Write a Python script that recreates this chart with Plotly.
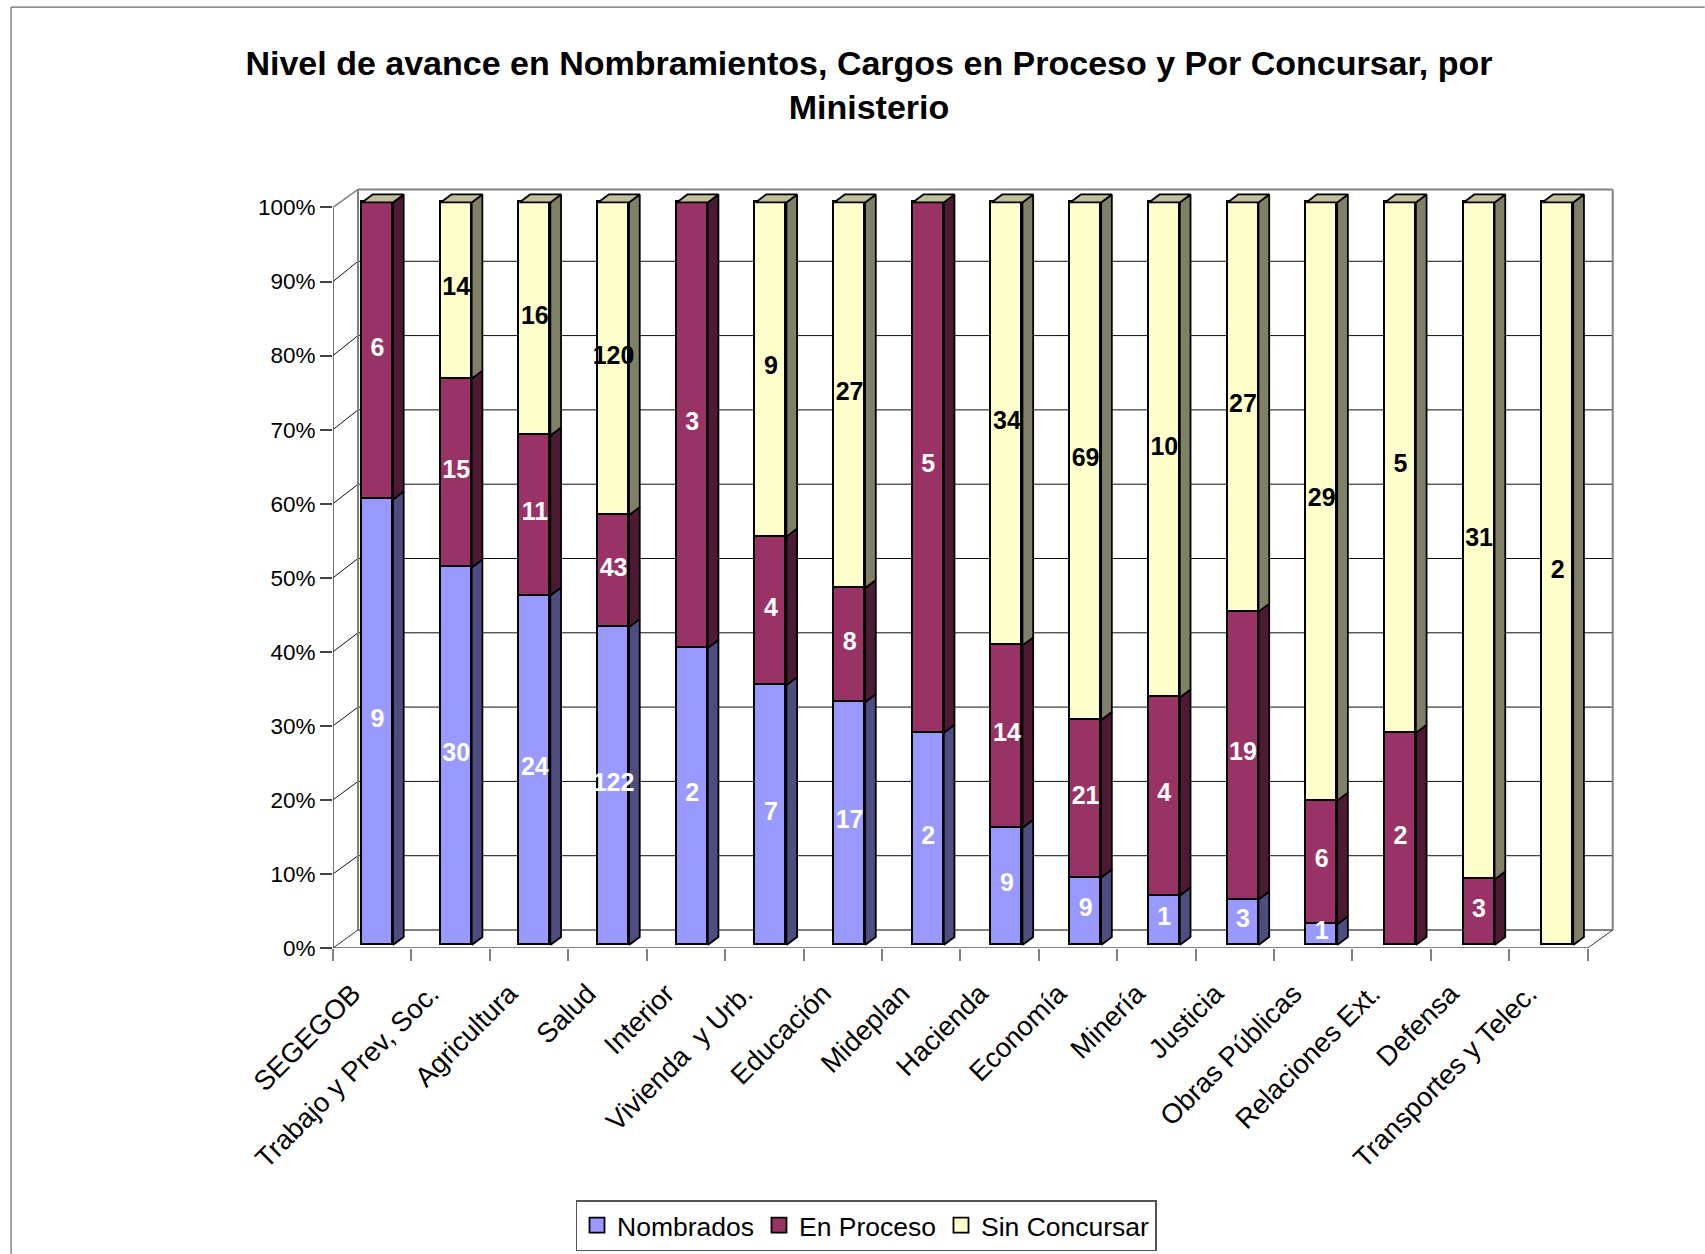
import plotly.graph_objects as go

# ---- data ----
categories = ["SEGEGOB", "Trabajo y Prev, Soc.", "Agricultura", "Salud", "Interior",
              "Vivienda  y Urb.", "Educación", "Mideplan", "Hacienda", "Economía",
              "Minería", "Justicia", "Obras Públicas", "Relaciones Ext.", "Defensa",
              "Transportes y Telec."]
nombrados = [9, 30, 24, 122, 2, 7, 17, 2, 9, 9, 1, 3, 1, 0, 0, 0]
en_proceso = [6, 15, 11, 43, 3, 4, 8, 5, 14, 21, 4, 19, 6, 2, 3, 0]
sin_concursar = [0, 14, 16, 120, 0, 9, 27, 0, 34, 69, 10, 27, 29, 5, 31, 2]
percent_ticks = list(range(0, 101, 10))

# ---- geometry (pixels) ----
W, H = 1705, 1254
AX_L, AX_R, AX_T, AX_B = 333.0, 1588.0, 207.0, 948.0
PX_X = (AX_R - AX_L) / 16
PX_Y = (AX_B - AX_T) / 100
WALL_DX, WALL_DY = 25 / PX_X, 18 / PX_Y
BACK_SCALE = 74.35 / 74.1
BAR_DX, BAR_DY = 10.7 / PX_X, 8 / PX_Y
BAR_W = 31 / PX_X
BAR_SHIFT = 44.5 / PX_X
BAR_PERIOD = 78.7 / PX_X
XMAX = 16 + WALL_DX + 0.08
YMAX = 100 + WALL_DY + 0.2
PLOT_TOP = AX_B - YMAX * PX_Y
BAR_BOTTOM, BAR_TOP = 945.0, 202.0
PX_Y2 = (BAR_BOTTOM - BAR_TOP) / 100
Y2_MIN = -(AX_B - BAR_BOTTOM) / PX_Y2
Y2_MAX = (BAR_BOTTOM - PLOT_TOP) / PX_Y2
LABEL_NUDGE = 1.5 / PX_Y2
LABEL_TICK_SHIFT = 0.25

FRONT = ["#9999FF", "#993366", "#FFFFCC"]
SIDE = ["#4D4D80", "#4D1A33", "#808066"]
TOP = "#BFBF99"
TEXT_COL = ["white", "white", "black"]
FONT = "Liberation Sans, Arial, sans-serif"
names = ["Nombrados", "En Proceso", "Sin Concursar"]
series = [nombrados, en_proceso, sin_concursar]
xs = [BAR_SHIFT + i * BAR_PERIOD for i in range(len(categories))]

fig = go.Figure()

# front faces
for k, vals in enumerate(series):
    fig.add_trace(go.Bar(
        x=xs, y=vals, width=BAR_W, yaxis="y2", showlegend=False,
        marker=dict(color=FRONT[k], line=dict(color="black", width=1.8)),
        hoverinfo="skip", cliponaxis=False,
    ))

# side faces and data labels, derived from the same values
label_sets = []
for k, vals in enumerate(series):
    px, py, lx, ly, lt = [], [], [], [], []
    for i, x in enumerate(xs):
        tot = sum(s[i] for s in series)
        lo = sum(series[j][i] for j in range(k)) / tot * 100
        hi = lo + vals[i] / tot * 100
        if vals[i] == 0:
            continue
        r = x + BAR_W / 2
        px += [r, r + BAR_DX, r + BAR_DX, r, r, None]
        py += [lo, lo + BAR_DY, hi + BAR_DY, hi, lo, None]
        lx.append(x)
        ly.append((lo + hi) / 2 + LABEL_NUDGE)
        lt.append(str(vals[i]))
    fig.add_trace(go.Scatter(x=px, y=py, yaxis="y2", mode="lines", fill="toself",
                             fillcolor=SIDE[k], line=dict(color="black", width=1.8),
                             showlegend=False, hoverinfo="skip", cliponaxis=False))
    label_sets.append((lx, ly, lt, TEXT_COL[k]))

tx, ty = [], []
for x in xs:
    l, r = x - BAR_W / 2, x + BAR_W / 2
    tx += [l, r, r + BAR_DX, l + BAR_DX, l, None]
    ty += [100, 100, 100 + BAR_DY, 100 + BAR_DY, 100, None]
fig.add_trace(go.Scatter(x=tx, y=ty, yaxis="y2", mode="lines", fill="toself",
                         fillcolor=TOP, line=dict(color="black", width=1.8),
                         showlegend=False, hoverinfo="skip", cliponaxis=False))

for lx, ly, lt, col in label_sets:
    fig.add_trace(go.Scatter(x=lx, y=ly, text=lt, yaxis="y2", mode="text",
                             textposition="middle center", showlegend=False, hoverinfo="skip",
                             cliponaxis=False,
                             textfont=dict(family=FONT, size=25, color=col, weight="bold")))

# legend entries
for k, n in enumerate(names):
    fig.add_trace(go.Scatter(x=[None], y=[None], mode="markers", name=n,
                             marker=dict(symbol="square", size=15, color=FRONT[k],
                                         line=dict(color="black", width=1.8))))

GRAY = "#808080"
shapes = []
def seg(x0, y0, x1, y1, color, width):
    shapes.append(dict(type="line", xref="x", yref="y", x0=x0, y0=y0, x1=x1, y1=y1,
                       layer="below", line=dict(color=color, width=width)))

for t in percent_ticks[1:-1]:
    back = WALL_DY + t * BACK_SCALE
    seg(WALL_DX, back, 16 + WALL_DX, back, "#111111", 1)
    seg(0, t, WALL_DX, back, "#111111", 1)
seg(0, 0, 0, 100, "#444444", 1.5)
seg(0, 100, WALL_DX, 100 + WALL_DY, GRAY, 1.5)
seg(WALL_DX, WALL_DY, WALL_DX, 100 + WALL_DY, GRAY, 2)
seg(WALL_DX, 100 + WALL_DY, 16 + WALL_DX, 100 + WALL_DY, GRAY, 2)
seg(16 + WALL_DX, WALL_DY, 16 + WALL_DX, 100 + WALL_DY, GRAY, 2)
seg(WALL_DX, WALL_DY, 16 + WALL_DX, WALL_DY, GRAY, 2)
seg(0, 0, 16, 0, GRAY, 2)
seg(0, 0, WALL_DX, WALL_DY, "#333333", 1)
seg(16, 0, 16 + WALL_DX, WALL_DY, "#333333", 1)

# outer frame of the picture, given in paper fractions of the plot area
plot_w = XMAX * PX_X
plot_h = AX_B - PLOT_TOP
def paper_x(p):
    return (p - AX_L) / plot_w
def paper_y(p):
    return (AX_B - p) / plot_h
for x0, y0, x1, y1 in [(11, 6.5, W, 6.5), (11, 6.5, 11, H)]:
    shapes.append(dict(type="line", xref="paper", yref="paper",
                       x0=paper_x(x0), x1=paper_x(x1), y0=paper_y(y0), y1=paper_y(y1),
                       layer="below", line=dict(color="#444444", width=1)))

fig.update_layout(
    width=W, height=H, autosize=False,
    margin=dict(l=AX_L, r=W - (AX_L + plot_w), t=PLOT_TOP, b=H - AX_B, pad=0),
    paper_bgcolor="white", plot_bgcolor="white",
    barmode="stack", barnorm="percent", bargap=0,
    font=dict(family=FONT, color="black"),
    title=dict(text="Nivel de avance en Nombramientos, Cargos en Proceso y Por Concursar, por<br>Ministerio",
               x=869 / W, xanchor="center", y=1 - 74.5 / H, yanchor="middle",
               font=dict(family=FONT, size=34, color="black", weight="bold")),
    xaxis=dict(range=[0, XMAX], tickmode="array",
               tickvals=[i + 0.5 - LABEL_TICK_SHIFT for i in range(16)], ticktext=categories,
               tickangle=-45, tickfont=dict(family=FONT, size=27.5), ticks="", showgrid=False,
               zeroline=False, showline=False, ticklabelstandoff=23,
               minor=dict(tickmode="array", tickvals=list(range(17)), ticks="outside",
                          ticklen=12, tickcolor=GRAY, tickwidth=1.5, showgrid=False)),
    yaxis=dict(range=[0, YMAX], tickmode="array", tickvals=percent_ticks,
               ticktext=[f"{t}%" for t in percent_ticks], ticks="outside", ticklen=12,
               tickcolor="#444444", tickwidth=1.5, tickfont=dict(family=FONT, size=22.5),
               showgrid=False, zeroline=False, showline=False),
    yaxis2=dict(range=[Y2_MIN, Y2_MAX], overlaying="y", side="left", visible=False,
                showgrid=False, zeroline=False),
    legend=dict(orientation="h", x=866 / W, xanchor="center", y=1 - 1200 / H, yanchor="top",
                yref="container", xref="container", traceorder="normal",
                bordercolor="#555555", borderwidth=1.5, bgcolor="white",
                font=dict(family=FONT, size=26.5), itemwidth=30, tracegroupgap=0),
    shapes=shapes,
)

fig.write_html("out.html", config=dict(displayModeBar=False),
               post_script="document.body.style.margin='0';document.body.style.overflow='hidden';")
